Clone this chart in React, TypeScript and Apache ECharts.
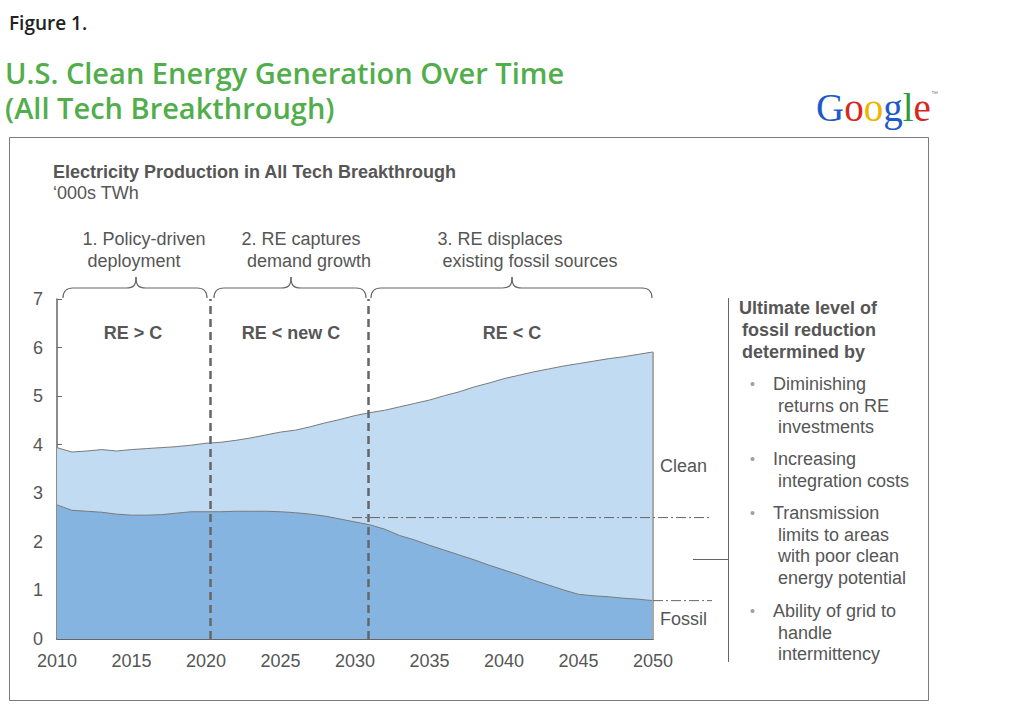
import { useEffect, useRef } from "react";
import * as echarts from "echarts";

const years = [
  2010, 2011, 2012, 2013, 2014, 2015, 2016, 2017, 2018, 2019, 2020, 2021, 2022, 2023,
  2024, 2025, 2026, 2027, 2028, 2029, 2030, 2031, 2032, 2033, 2034, 2035, 2036, 2037,
  2038, 2039, 2040, 2041, 2042, 2043, 2044, 2045, 2046, 2047, 2048, 2049, 2050,
];
// Total generation (top of Clean area), '000s TWh
const totalGeneration = [
  3.94, 3.85, 3.87, 3.9, 3.87, 3.9, 3.92, 3.94, 3.96, 3.99, 4.03, 4.05, 4.09, 4.14,
  4.2, 4.26, 4.3, 4.37, 4.45, 4.52, 4.6, 4.66, 4.71, 4.78, 4.85, 4.92, 5.01, 5.09,
  5.19, 5.27, 5.36, 5.43, 5.5, 5.56, 5.62, 5.67, 5.72, 5.77, 5.81, 5.86, 5.91,
];
// Fossil generation, '000s TWh
const fossilGeneration = [
  2.76, 2.65, 2.63, 2.61, 2.57, 2.55, 2.55, 2.56, 2.59, 2.62, 2.62, 2.62, 2.63, 2.63,
  2.63, 2.62, 2.6, 2.57, 2.53, 2.47, 2.41, 2.35, 2.26, 2.13, 2.04, 1.93, 1.83, 1.73,
  1.63, 1.52, 1.42, 1.32, 1.21, 1.11, 1.01, 0.92, 0.89, 0.87, 0.84, 0.82, 0.79,
];
const xAxisRange = { min: 2010, max: 2050, interval: 5 };
const yAxisRange = { min: 0, max: 7, interval: 1 };
const phaseBoundaries = [2020.3, 2030.9];
const referenceLevelStart = 2029.8;
const referenceLevel = 2.5;
const titleLines = ["U.S. Clean Energy Generation Over Time", "(All Tech Breakthrough)"];
const phaseTitles = [
  ["1. Policy-driven", "deployment"],
  ["2. RE captures", "demand growth"],
  ["3. RE displaces", "existing fossil sources"],
];
const phaseRules = ["RE > C", "RE < new C", "RE < C"];
const sideHeading = ["Ultimate level of", "fossil reduction", "determined by"];
const sideBullets = [
  ["Diminishing", "returns on RE", "investments"],
  ["Increasing", "integration costs"],
  ["Transmission", "limits to areas", "with poor clean", "energy potential"],
  ["Ability of grid to", "handle", "intermittency"],
];

const TXT = "#565656";
const AX = "#666666";
const FONT = "Arial, 'Liberation Sans', sans-serif";
const FS = 18;

function txt(text: string, x: number, y: number, opts: any = {}) {
  const size = opts.size || FS;
  return {
    type: "text",
    x,
    y,
    silent: true,
    z: 100,
    style: {
      text,
      fill: opts.fill || TXT,
      font: `${opts.weight || "normal"} ${size}px ${opts.family || FONT}`,
      lineHeight: opts.lineHeight || Math.round(size * 1.05),
      textAlign: opts.align || "left",
      textVerticalAlign: "middle",
    },
  };
}

function brace(x1: number, x2: number, xm: number, yEnd: number, yMid: number, yPeak: number) {
  const r = 10;
  const st = { stroke: AX, lineWidth: 1.2, fill: "none" };
  return [
    { type: "bezierCurve", silent: true, shape: { x1, y1: yEnd, cpx1: x1, cpy1: yMid, x2: x1 + r, y2: yMid }, style: st },
    { type: "line", silent: true, shape: { x1: x1 + r, y1: yMid, x2: xm - r, y2: yMid }, style: st },
    { type: "bezierCurve", silent: true, shape: { x1: xm - r, y1: yMid, cpx1: xm - 2, cpy1: yMid, cpx2: xm, cpy2: yMid - 3, x2: xm, y2: yPeak }, style: st },
    { type: "bezierCurve", silent: true, shape: { x1: xm + r, y1: yMid, cpx1: xm + 2, cpy1: yMid, cpx2: xm, cpy2: yMid - 3, x2: xm, y2: yPeak }, style: st },
    { type: "line", silent: true, shape: { x1: xm + r, y1: yMid, x2: x2 - r, y2: yMid }, style: st },
    { type: "bezierCurve", silent: true, shape: { x1: x2 - r, y1: yMid, cpx1: x2, cpy1: yMid, x2, y2: yEnd }, style: st },
  ];
}

export default function App() {
  const ref = useRef<HTMLDivElement>(null);
  useEffect(() => {
    const chart = echarts.init(ref.current!, null, { renderer: "svg" });
    const totalData = years.map((y, i) => [y, totalGeneration[i]]);
    const fossilData = years.map((y, i) => [y, fossilGeneration[i]]);
    const lastYear = years[years.length - 1];
    const lastTotal = totalGeneration[totalGeneration.length - 1];
    const lastFossil = fossilGeneration[fossilGeneration.length - 1];

    chart.setOption({
      animation: false,
      backgroundColor: "#ffffff",
      grid: { left: 57, top: 299, width: 596, height: 340, containLabel: false },
      xAxis: {
        type: "value",
        min: xAxisRange.min,
        max: xAxisRange.max,
        interval: xAxisRange.interval,
        axisLine: { show: true, lineStyle: { color: AX, width: 2 } },
        axisTick: { show: true, inside: true, length: 5, lineStyle: { color: AX, width: 1 } },
        minorTick: { show: true, splitNumber: 5, length: 5, lineStyle: { color: AX, width: 1 } },
        splitLine: { show: false },
        axisLabel: { color: TXT, fontSize: FS, fontFamily: FONT, margin: 13, formatter: (v: number) => String(v) },
      },
      yAxis: {
        type: "value",
        min: yAxisRange.min,
        max: yAxisRange.max,
        interval: yAxisRange.interval,
        axisLine: { show: true, lineStyle: { color: AX, width: 1.5 } },
        axisTick: { show: true, inside: true, length: 5, lineStyle: { color: AX, width: 1 } },
        splitLine: { show: false },
        axisLabel: { color: TXT, fontSize: FS, fontFamily: FONT, margin: 14 },
      },
      series: [
        {
          name: "Clean",
          type: "line",
          data: totalData,
          symbol: "none",
          lineStyle: { color: "#7a7a7a", width: 1 },
          areaStyle: { color: "#c0dbf2", opacity: 1 },
          z: 2,
          markLine: {
            silent: true,
            symbol: "none",
            label: { show: false },
            lineStyle: { color: "#a8a8a8", width: 2, type: "solid" },
            data: [[{ coord: [lastYear, 0] }, { coord: [lastYear, lastTotal] }]],
          },
        },
        {
          name: "Fossil",
          type: "line",
          data: fossilData,
          symbol: "none",
          lineStyle: { color: "#7a7a7a", width: 1 },
          areaStyle: { color: "#86b4e1", opacity: 1 },
          z: 3,
          markLine: {
            silent: true,
            symbol: "none",
            label: { show: false },
            lineStyle: { color: "#666666", width: 2.5, type: [8, 5] },
            data: phaseBoundaries.map((b) => [{ coord: [b, 0] }, { coord: [b, yAxisRange.max] }]),
          },
        },
      ],
    });

    const p = (x: number, y: number) => chart.convertToPixel({ gridIndex: 0 }, [x, y]) as number[];
    const refA = p(referenceLevelStart, referenceLevel);
    const refB = p(lastYear, lastFossil);
    const extEnd = 712;
    const dashDot = { stroke: "#666666", lineWidth: 1, lineDash: [10, 3, 2, 3] };
    const gFont = "normal 39px 'Liberation Serif', 'DejaVu Serif', serif";

    const graphic: any[] = [
      { type: "rect", silent: true, z: 0, shape: { x: 9.5, y: 137.5, width: 919, height: 563 }, style: { fill: "none", stroke: "#7a7a7a", lineWidth: 1 } },
      txt("Figure 1.", 9, 23, { size: 19, weight: 600, family: "'Open Sans', sans-serif", fill: "#222222" }),
      txt(titleLines.join("\n"), 5, 89.5, { size: 29, weight: 600, lineHeight: 35, family: "'Open Sans', sans-serif", fill: "#52ae4b" }),
      {
        type: "text",
        x: 816,
        y: 107,
        silent: true,
        style: {
          text: "{b|G}{r|o}{y|o}{b|g}{g|l}{r|e}",
          font: gFont,
          textVerticalAlign: "middle",
          rich: {
            b: { fill: "#1f5bc8", font: gFont },
            r: { fill: "#d6281c", font: gFont },
            y: { fill: "#efb300", font: gFont },
            g: { fill: "#2f9a3a", font: gFont },
          },
        },
      },
      txt("™", 931, 93, { size: 7, fill: "#888888" }),
      txt("Electricity Production in All Tech Breakthrough", 53, 172, { weight: "bold" }),
      txt("‘000s TWh", 53, 193),
      txt(phaseTitles[0][0], 144, 239, { align: "center" }),
      txt(phaseTitles[0][1], 134, 261, { align: "center" }),
      txt(phaseTitles[1][0], 301, 239, { align: "center" }),
      txt(phaseTitles[1][1], 309, 261, { align: "center" }),
      txt(phaseTitles[2][0], 500, 239, { align: "center" }),
      txt(phaseTitles[2][1], 530, 261, { align: "center" }),
      ...brace(63, 207, 136, 298, 288, 277),
      ...brace(214, 366, 291, 298, 288, 277),
      ...brace(371, 652, 512, 298, 288, 277),
      txt(phaseRules[0], 133, 333, { align: "center", weight: "bold" }),
      txt(phaseRules[1], 291, 333, { align: "center", weight: "bold" }),
      txt(phaseRules[2], 512, 333, { align: "center", weight: "bold" }),
      txt("Clean", 660, 466),
      txt("Fossil", 660, 619),
      { type: "line", silent: true, z: 50, shape: { x1: refA[0], y1: refA[1], x2: extEnd, y2: refA[1] }, style: dashDot },
      { type: "line", silent: true, z: 50, shape: { x1: refB[0], y1: refB[1], x2: extEnd, y2: refB[1] }, style: dashDot },
      { type: "line", silent: true, shape: { x1: 693, y1: 559.5, x2: 728, y2: 559.5 }, style: { stroke: "#666666", lineWidth: 1 } },
      { type: "line", silent: true, shape: { x1: 728.5, y1: 298, x2: 728.5, y2: 662 }, style: { stroke: "#666666", lineWidth: 1 } },
    ];

    const headX = [739, 742, 742];
    sideHeading.forEach((h, i) => graphic.push(txt(h, headX[i], 308 + i * 22, { weight: "bold" })));
    const bulletY = [384, 459, 513, 611];
    sideBullets.forEach((lines, bi) => {
      graphic.push(txt("•", 750, bulletY[bi], { fill: "#a0a0a0", size: 14 }));
      lines.forEach((l, li) => graphic.push(txt(l, li === 0 ? 773 : 778, bulletY[bi] + li * 21.6)));
    });

    chart.setOption({ graphic });
    return () => chart.dispose();
  }, []);
  return <div ref={ref} style={{ position: "fixed", left: 0, top: 0, width: 1010, height: 718 }} />;
}
